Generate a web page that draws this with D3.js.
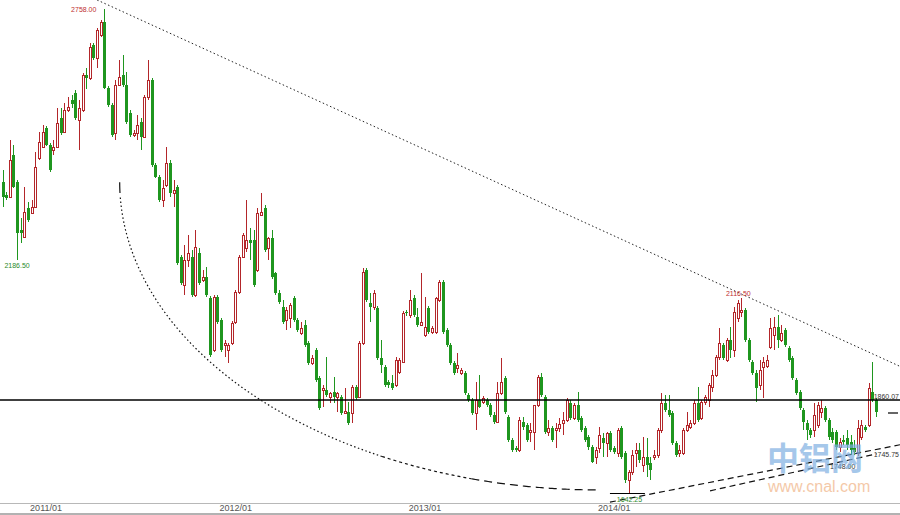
<!DOCTYPE html>
<html>
<head>
<meta charset="utf-8">
<script src="https://cdn.jsdelivr.net/npm/d3@7"></script>
<style>
  body { margin: 0; background: #fff; }
  svg { display: block; }
</style>
</head>
<body>
<svg width="900" height="515"></svg>
<script>
// weekly bars, mid Nov 2010 .. mid 2015 (one entry per week)
const opens = [
  2361, 2332, 2327, 2424, 2361, 2251, 2235, 2302, 2290, 2304,
  2417, 2442, 2486, 2447, 2435, 2442, 2509, 2476, 2527, 2550,
  2566, 2504, 2527, 2608, 2601, 2677, 2647, 2700, 2729, 2578,
  2539, 2474, 2585, 2608, 2585, 2520, 2470, 2474, 2499, 2465,
  2557, 2596, 2401, 2373, 2320, 2355, 2405, 2336, 2350, 2189,
  2125, 2182, 2189, 2102, 2198, 2136, 2143, 2095, 1975, 2097,
  2044, 1987, 1975, 1991, 2039, 2108, 2189, 2210, 2228, 2228,
  2159, 2286, 2302, 2210, 2233, 2152, 2106, 2074, 2044, 2049,
  2095, 2044, 2014, 2033, 1991, 1945, 1975, 1911, 1883, 1883,
  1867, 1878, 1867, 1867, 1830, 1832, 1830, 1890, 1867, 1991,
  2159, 2083, 2074, 2072, 1957, 1936, 1901, 1899, 1895, 1924,
  1947, 2062, 2056, 2095, 2051, 2033, 2010, 2072, 2016, 2016,
  2090, 2131, 2021, 1987, 1945, 1934, 1922, 1922, 1872, 1860,
  1830, 1860, 1855, 1860, 1849, 1826, 1809, 1876, 1911, 1821,
  1768, 1750, 1745, 1809, 1803, 1786, 1786, 1849, 1913, 1867,
  1786, 1796, 1791, 1796, 1807, 1814, 1853, 1819, 1849, 1819,
  1796, 1775, 1752, 1729, 1750, 1773, 1761, 1784, 1750, 1738,
  1796, 1738, 1676, 1694, 1738, 1745, 1711, 1729, 1715, 1729,
  1734, 1791, 1853, 1837, 1830, 1761, 1738, 1738, 1791, 1798,
  1807, 1853, 1819, 1855, 1860, 1890, 1918, 1959, 1987, 1952,
  1998, 1975, 2049, 2062, 2067, 1998, 1947, 1922, 1895, 1936,
  1938, 1982, 2010, 2028, 1998, 2021, 1980, 1957, 1906, 1878,
  1837, 1807, 1791, 1791, 1803, 1832, 1842, 1814, 1786, 1786,
  1752, 1768, 1773, 1763, 1750, 1738, 1775, 1798, 1803, 1878,
  1860
];
const highs = [
  2389, 2338, 2458, 2447, 2366, 2279, 2350, 2315, 2320, 2430,
  2476, 2492, 2490, 2451, 2458, 2532, 2532, 2543, 2557, 2562,
  2573, 2550, 2612, 2624, 2681, 2681, 2716, 2734, 2759, 2582,
  2543, 2596, 2642, 2654, 2614, 2527, 2481, 2516, 2509, 2562,
  2642, 2601, 2405, 2377, 2366, 2442, 2412, 2366, 2354, 2194,
  2217, 2240, 2205, 2251, 2210, 2159, 2166, 2099, 2102, 2102,
  2049, 1998, 1991, 2042, 2113, 2194, 2244, 2320, 2256, 2251,
  2302, 2336, 2309, 2235, 2251, 2154, 2113, 2090, 2074, 2083,
  2099, 2049, 2039, 2044, 1996, 1964, 1980, 1915, 1895, 1959,
  1878, 1913, 1878, 1872, 1888, 1855, 1895, 1895, 1996, 2164,
  2164, 2106, 2113, 2076, 1998, 1941, 1906, 1917, 1959, 1957,
  2065, 2067, 2113, 2102, 2072, 2152, 2097, 2076, 2030, 2097,
  2136, 2136, 2026, 1991, 1950, 1968, 1934, 1927, 1876, 1865,
  1901, 1917, 1869, 1865, 1853, 1832, 1901, 1957, 1915, 1826,
  1773, 1754, 1821, 1821, 1807, 1807, 1849, 1918, 1922, 1872,
  1814, 1800, 1807, 1819, 1832, 1865, 1860, 1853, 1878, 1823,
  1800, 1780, 1757, 1752, 1798, 1784, 1786, 1789, 1754, 1796,
  1800, 1743, 1699, 1745, 1761, 1761, 1775, 1773, 1729, 1745,
  1796, 1876, 1872, 1872, 1835, 1766, 1757, 1796, 1832, 1814,
  1860, 1890, 1860, 1872, 1899, 1929, 1964, 2026, 1991, 2003,
  2028, 2074, 2090, 2095, 2072, 2003, 1952, 1929, 1952, 1959,
  1964, 2049, 2051, 2056, 2033, 2026, 1984, 1961, 1911, 1883,
  1842, 1814, 1796, 1853, 1855, 1860, 1846, 1819, 1796, 1791,
  1773, 1780, 1791, 1780, 1768, 1814, 1814, 1803, 1899, 1947,
  1865
];
const lows = [
  2304, 2320, 2325, 2348, 2182, 2221, 2233, 2269, 2288, 2302,
  2412, 2440, 2444, 2384, 2424, 2440, 2470, 2474, 2522, 2532,
  2504, 2435, 2522, 2575, 2596, 2642, 2624, 2695, 2575, 2534,
  2465, 2458, 2582, 2580, 2495, 2465, 2465, 2458, 2435, 2463,
  2550, 2396, 2371, 2315, 2304, 2350, 2327, 2304, 2170, 2125,
  2102, 2166, 2097, 2097, 2125, 2131, 2097, 1959, 1970, 2035,
  1970, 1959, 1945, 1987, 2035, 2104, 2187, 2200, 2182, 2120,
  2154, 2283, 2200, 2182, 2138, 2102, 2081, 2035, 2021, 2026,
  2039, 2016, 2010, 1982, 1941, 1941, 1901, 1837, 1844, 1867,
  1853, 1853, 1832, 1826, 1828, 1803, 1807, 1860, 1865, 1987,
  2085, 2039, 2067, 1952, 1922, 1890, 1888, 1883, 1890, 1920,
  1945, 2053, 2049, 2051, 2028, 2030, 2005, 2012, 2012, 2012,
  2085, 2012, 1982, 1941, 1918, 1922, 1918, 1872, 1855, 1826,
  1791, 1842, 1851, 1844, 1821, 1805, 1807, 1872, 1828, 1763,
  1740, 1740, 1740, 1791, 1763, 1763, 1745, 1844, 1867, 1782,
  1777, 1763, 1750, 1786, 1780, 1809, 1814, 1814, 1809, 1786,
  1763, 1745, 1715, 1713, 1738, 1729, 1729, 1740, 1736, 1729,
  1724, 1669, 1646, 1688, 1706, 1715, 1694, 1683, 1676, 1722,
  1727, 1784, 1832, 1821, 1757, 1729, 1729, 1734, 1786, 1793,
  1803, 1809, 1814, 1849, 1844, 1878, 1913, 1952, 1952, 1947,
  1957, 1959, 2039, 2051, 1993, 1947, 1918, 1855, 1883, 1865,
  1934, 1977, 1975, 1980, 1993, 1982, 1947, 1906, 1872, 1837,
  1791, 1768, 1773, 1775, 1796, 1819, 1809, 1768, 1761, 1745,
  1740, 1757, 1745, 1734, 1734, 1731, 1768, 1786, 1798, 1855,
  1821
];
const closes = [
  2327, 2325, 2412, 2350, 2244, 2244, 2292, 2274, 2304, 2396,
  2453, 2476, 2447, 2389, 2442, 2497, 2474, 2527, 2534, 2541,
  2509, 2532, 2608, 2601, 2672, 2647, 2711, 2729, 2578, 2539,
  2470, 2585, 2603, 2585, 2499, 2470, 2474, 2493, 2465, 2557,
  2596, 2401, 2373, 2320, 2348, 2405, 2336, 2343, 2175, 2129,
  2182, 2198, 2102, 2212, 2129, 2143, 2102, 1964, 2097, 2039,
  1975, 1991, 1987, 2037, 2108, 2189, 2240, 2228, 2221, 2125,
  2290, 2292, 2205, 2233, 2143, 2106, 2085, 2039, 2067, 2079,
  2044, 2021, 2026, 1987, 1945, 1957, 1906, 1842, 1888, 1872,
  1876, 1867, 1876, 1830, 1835, 1807, 1890, 1865, 1991, 2154,
  2090, 2074, 2106, 1957, 1941, 1895, 1895, 1888, 1952, 1952,
  2060, 2060, 2090, 2056, 2033, 2039, 2028, 2016, 2026, 2095,
  2131, 2016, 1987, 1945, 1922, 1941, 1929, 1876, 1860, 1830,
  1860, 1844, 1865, 1849, 1826, 1809, 1876, 1901, 1832, 1768,
  1745, 1745, 1814, 1798, 1768, 1791, 1849, 1913, 1872, 1786,
  1796, 1768, 1796, 1805, 1814, 1860, 1819, 1849, 1814, 1791,
  1768, 1752, 1717, 1745, 1780, 1761, 1784, 1745, 1740, 1791,
  1729, 1676, 1694, 1734, 1745, 1722, 1729, 1711, 1699, 1734,
  1791, 1853, 1837, 1826, 1761, 1734, 1745, 1791, 1803, 1807,
  1853, 1814, 1855, 1867, 1895, 1918, 1959, 1991, 1957, 1998,
  1975, 2062, 2083, 2067, 1998, 1952, 1922, 1888, 1929, 1947,
  1952, 2026, 2028, 1998, 2014, 1987, 1952, 1911, 1876, 1842,
  1809, 1791, 1780, 1826, 1849, 1842, 1814, 1775, 1768, 1752,
  1763, 1763, 1757, 1745, 1740, 1796, 1803, 1791, 1888, 1860,
  1832
];

// x-axis labels (first week of each year)
const tickIndex = [8, 60, 112, 164];
const tickLabels = ["2011/01", "2012/01", "2013/01", "2014/01"];

// drawn studies, in [week index, price]
const topTrend = [[26, 2780], [246.4, 1938]];
const lowerTrendA = [[166.9, 1625], [246.6, 1757]];
const lowerTrendB = [[194.4, 1651], [240.2, 1736]];
const levelPrice = 1860;
const arcCentre = [164.1, 2361];
const arcRadius = [131.9, 708];

// price marks written on the chart
const marks = [
  { i: 28, at: "high", text: "2758.00", color: "#c03030", dx: -8, dy: 3, anchor: "end" },
  { i: 4, at: "low", text: "2186.50", color: "#2a8a2a", dx: 0, dy: 8, anchor: "middle" },
  { i: 203, at: "high", text: "2116.50", color: "#c03030", dx: -3, dy: -2, anchor: "middle" },
  { i: 172, at: "low", text: "1642.25", color: "#2a8a2a", dx: 1, dy: 9, anchor: "middle" }
];

const svg = d3.select("svg");
const W = 900;
const x = d3.scaleLinear().domain([0, 240]).range([2.5, 876]);
const y = d3.scaleLinear().domain([1600, 2780]).range([513, 0]);

const data = opens.map((o, i) => ({
  i: i,
  o: o,
  c: closes[i],
  h: Math.max(highs[i], o, closes[i]),
  l: Math.min(lows[i], o, closes[i])
}));

const RED = "#b3262a", GREEN = "#1f961f";
const isUp = d => d.c >= d.o;

// axis
svg.append("line").attr("x1", 0).attr("x2", W).attr("y1", 503.5).attr("y2", 503.5)
  .attr("stroke", "#b8b8b8").attr("stroke-width", 1.2);
svg.append("line").attr("x1", 0).attr("x2", W).attr("y1", 514).attr("y2", 514)
  .attr("stroke", "#999").attr("stroke-width", 1.5);

const axis = d3.axisBottom(x)
  .tickValues(tickIndex)
  .tickFormat((d, k) => tickLabels[k])
  .tickSize(0)
  .tickPadding(2);
const ax = svg.append("g").attr("transform", "translate(0,503)").call(axis);
ax.select(".domain").remove();
ax.selectAll("text")
  .attr("text-anchor", "start")
  .attr("dx", -2)
  .attr("fill", "#555")
  .style("font", "9px 'Liberation Sans Narrow', 'Liberation Sans', Arial, sans-serif");

// candles
const cg = svg.append("g").attr("shape-rendering", "crispEdges");
cg.selectAll("line.wick").data(data).join("line")
  .attr("class", "wick")
  .attr("x1", d => Math.round(x(d.i)) + 0.5)
  .attr("x2", d => Math.round(x(d.i)) + 0.5)
  .attr("y1", d => y(d.h))
  .attr("y2", d => y(d.l))
  .attr("stroke", d => isUp(d) ? RED : GREEN)
  .attr("stroke-width", 1);

cg.selectAll("rect.down").data(data.filter(d => !isUp(d))).join("rect")
  .attr("class", "down")
  .attr("x", d => Math.round(x(d.i)) - 1)
  .attr("width", 3)
  .attr("y", d => y(d.o))
  .attr("height", d => Math.max(1, y(d.c) - y(d.o)))
  .attr("fill", GREEN);

cg.selectAll("rect.up").data(data.filter(isUp)).join("rect")
  .attr("class", "up")
  .attr("x", d => Math.round(x(d.i)) - 0.5)
  .attr("width", 2)
  .attr("y", d => Math.round(y(d.c)) + 0.5)
  .attr("height", d => Math.max(1, Math.round(y(d.o) - y(d.c))))
  .attr("fill", "#fff")
  .attr("stroke", RED)
  .attr("stroke-width", 1);

// studies
const line = d3.line().x(p => x(p[0])).y(p => y(p[1]));

svg.append("line")
  .attr("x1", 0).attr("x2", W)
  .attr("y1", y(levelPrice)).attr("y2", y(levelPrice))
  .attr("stroke", "#000").attr("stroke-width", 1.6);

svg.append("path").attr("d", line(topTrend))
  .attr("fill", "none").attr("stroke", "#222").attr("stroke-width", 1)
  .attr("stroke-dasharray", "1.5,2.5");

[lowerTrendA, lowerTrendB].forEach(seg => {
  svg.append("path").attr("d", line(seg))
    .attr("fill", "none").attr("stroke", "#111").attr("stroke-width", 1.2)
    .attr("stroke-dasharray", "6,4");
});

// the bowl: a quarter ellipse, dots first and longer dashes near the bottom
const arcPart = (t0, t1) => d3.range(t0, t1 + 0.0001, (t1 - t0) / 60).map(t => [
  arcCentre[0] - arcRadius[0] * Math.cos(t),
  arcCentre[1] - arcRadius[1] * Math.sin(t)
]);
const arcStyles = [
  { t0: 0, t1: 0.035, dash: null },
  { t0: 0.05, t1: 1.1, dash: "1.5,2.5" },
  { t0: 1.1, t1: 1.3, dash: "3,3" },
  { t0: 1.3, t1: Math.PI / 2, dash: "8,5" }
];
arcStyles.forEach(s => {
  svg.append("path").attr("d", line(arcPart(s.t0, s.t1)))
    .attr("fill", "none").attr("stroke", "#111").attr("stroke-width", 1.2)
    .attr("stroke-dasharray", s.dash);
});

// marks at the extremes
const labelFont = "7px 'Liberation Sans Narrow', 'Liberation Sans', Arial, sans-serif";
marks.forEach(m => {
  const d = data[m.i];
  svg.append("text")
    .attr("x", x(m.i) + m.dx)
    .attr("y", y(m.at === "high" ? d.h : d.l) + m.dy)
    .attr("text-anchor", m.anchor)
    .attr("fill", m.color)
    .style("font", labelFont)
    .text(m.text);
});
svg.append("line")
  .attr("x1", x(166.9)).attr("x2", x(176.5))
  .attr("y1", y(data[172].l) + 0.5).attr("y2", y(data[172].l) + 0.5)
  .attr("stroke", "#000").attr("stroke-width", 1.2);

svg.append("text").attr("x", 899).attr("y", y(levelPrice) - 1)
  .attr("text-anchor", "end")
  .attr("fill", "#333").style("font", labelFont).text("1860.07");
svg.append("line").attr("x1", 888).attr("x2", 898).attr("y1", 413).attr("y2", 413)
  .attr("stroke", "#000").attr("stroke-width", 1.2);
svg.append("text").attr("x", 899).attr("y", y(lowerTrendB[1][1]) + 3)
  .attr("text-anchor", "end")
  .attr("fill", "#333").style("font", labelFont).text("1745.75");
svg.append("text").attr("x", 830).attr("y", 469)
  .attr("fill", "#333").style("font", labelFont).text("1748.00");

// watermark
svg.append("text").attr("x", 767).attr("y", 470)
  .attr("fill", "#7fb0e2").attr("opacity", 0.7)
  .style("font", "bold 32px 'Noto Sans CJK SC', sans-serif")
  .text("中铝网");
svg.append("text").attr("x", 768).attr("y", 492)
  .attr("fill", "#f3bf9a").attr("opacity", 0.85)
  .style("font", "16px 'Liberation Sans', Arial, sans-serif")
  .text("www.cnal.com");
</script>
</body>
</html>
